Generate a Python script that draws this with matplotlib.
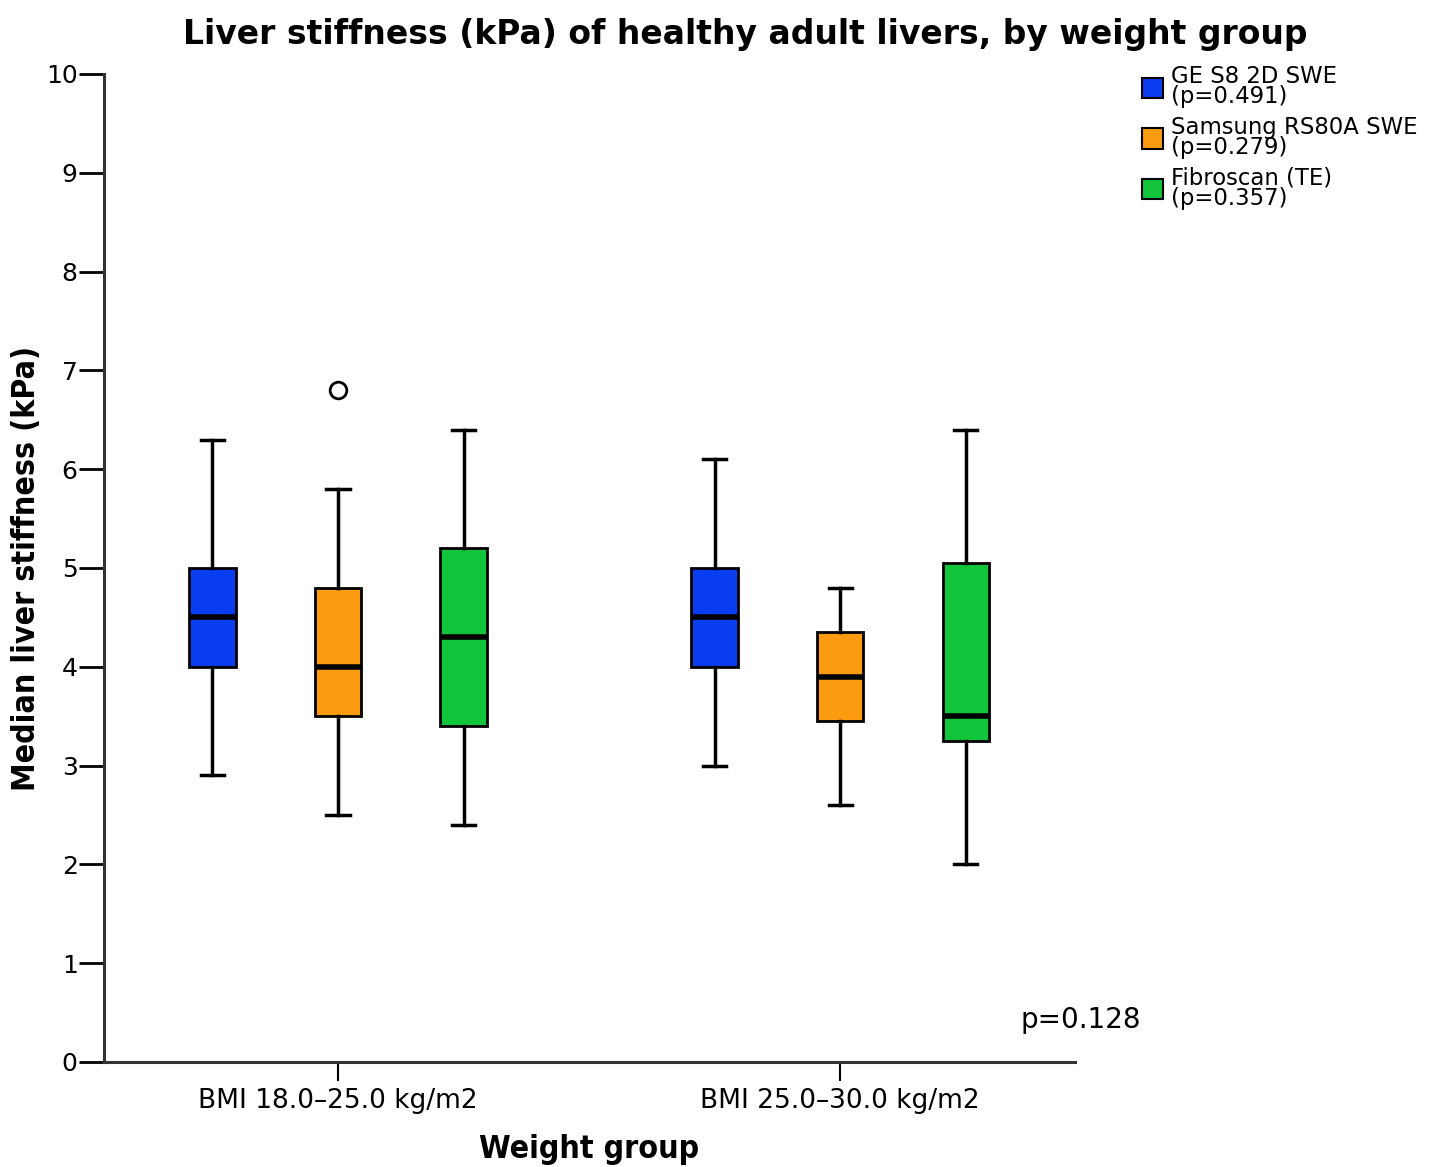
import matplotlib.pyplot as plt
from matplotlib.patches import Patch

groups = ['BMI 18.0\u201325.0 kg/m2', 'BMI 25.0\u201330.0 kg/m2']
devices = ['GE S8 2D SWE\n(p=0.491)', 'Samsung RS80A SWE\n(p=0.279)', 'Fibroscan (TE)\n(p=0.357)']
colors = ['#0a3cf0', '#fb9c10', '#12c43a']

# per device, one value per weight group
whislo = [[2.9, 3.0], [2.5, 2.6], [2.4, 2.0]]
q1 = [[4.0, 4.0], [3.5, 3.45], [3.4, 3.25]]
med = [[4.5, 4.5], [4.0, 3.9], [4.3, 3.5]]
q3 = [[5.0, 5.0], [4.8, 4.35], [5.2, 5.05]]
whishi = [[6.3, 6.1], [5.8, 4.8], [6.4, 6.4]]
fliers = [[[], []], [[6.8], []], [[], []]]

offsets = [-0.25, 0.0, 0.25]

fig = plt.figure(figsize=(14.39, 11.67), dpi=100)
ax = fig.add_axes([0.0723, 0.09, 0.6748, 0.8466])

for d in range(len(devices)):
    stats = []
    pos = []
    for g in range(len(groups)):
        stats.append({'whislo': whislo[d][g], 'q1': q1[d][g], 'med': med[d][g],
                      'q3': q3[d][g], 'whishi': whishi[d][g], 'fliers': fliers[d][g]})
        pos.append(g + offsets[d])
    ax.bxp(stats, positions=pos, widths=0.092, patch_artist=True, showfliers=True,
           boxprops=dict(facecolor=colors[d], edgecolor='black', linewidth=2),
           medianprops=dict(color='black', linewidth=4),
           whiskerprops=dict(color='black', linewidth=2.5),
           capprops=dict(color='black', linewidth=2.5),
           flierprops=dict(marker='o', markerfacecolor='white', markeredgecolor='black',
                           markersize=12, markeredgewidth=2))

ax.set_xlim(-0.466, 1.468)
ax.set_ylim(0, 10)
ax.set_yticks(range(0, 11))
ax.set_xticks(range(len(groups)))
ax.set_xticklabels(groups)

for s in ['top', 'right']:
    ax.spines[s].set_visible(False)
for s in ['left', 'bottom']:
    ax.spines[s].set_linewidth(2.2)
    ax.spines[s].set_color('#333333')

ax.tick_params(axis='y', length=18, width=2, labelsize=18, pad=1)
ax.tick_params(axis='x', length=14, width=1.5, labelsize=19, pad=5)

ax.set_ylabel('Median liver stiffness (kPa)', fontsize=23, fontweight='bold',
              fontstretch='condensed', labelpad=3)
ax.set_xlabel('Weight group', fontsize=23, fontweight='bold',
              fontstretch='condensed', labelpad=14)
fig.suptitle('Liver stiffness (kPa) of healthy adult livers, by weight group',
             x=0.518, y=0.985, fontsize=23.8, fontweight='bold')

ax.text(1.48, 0.425, 'p=0.128', fontsize=20, ha='center', va='center')

handles = [Patch(facecolor=c, edgecolor='black', linewidth=1.5) for c in colors]
leg = fig.legend(handles, devices, loc='upper left', bbox_to_anchor=(0.787, 0.952),
                 frameon=False, fontsize=16.4, handlelength=0.95, handleheight=1.0,
                 handletextpad=0.35, labelspacing=0.32, borderaxespad=0)
for t in leg.get_texts():
    t.set_linespacing(0.85)

fig.savefig('out.png', dpi=100)
